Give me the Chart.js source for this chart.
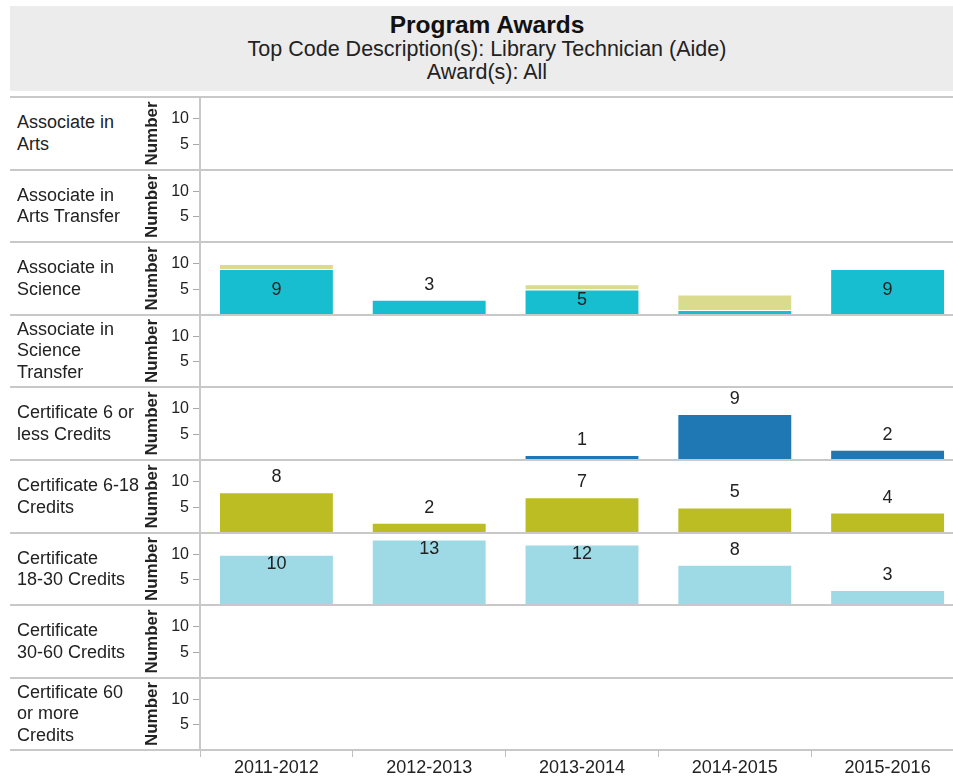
<!DOCTYPE html>
<html>
<head>
<meta charset="utf-8">
<script src="https://cdn.jsdelivr.net/npm/chart.js@4.4.1/dist/chart.umd.min.js"></script>
<style>
  html, body { margin: 0; padding: 0; background: #fff; overflow: hidden; }
  body { width: 953px; height: 778px; position: relative; font-family: Arial, "Liberation Sans", sans-serif; color: #222; }
  #header { position: absolute; left: 10px; top: 6px; width: 954px; height: 85px; background: #ececec; }
  .hline { position: absolute; left: 0; width: 954px; text-align: center; white-space: nowrap; }
  .rowline { position: absolute; left: 10px; width: 943px; height: 0; border-top: 2px solid #c8c8c8; }
  .rowlabel { position: absolute; left: 17px; width: 125px; display: flex; flex-direction: column; justify-content: center; font-size: 18px; line-height: 21.5px; color: #222; }
  canvas { position: absolute; left: 142px; }
</style>
</head>
<body>
<div id="header">
  <div class="hline" style="top:7px;height:24px;line-height:24px;font-size:24.5px;font-weight:bold;color:#111">Program Awards</div>
  <div class="hline" style="top:32px;height:23px;line-height:23px;font-size:21.5px">Top Code Description(s): Library Technician (Aide)</div>
  <div class="hline" style="top:55px;height:23px;line-height:23px;font-size:21.5px">Award(s): All</div>
</div>
<script>
// --- data ---
const years = ["2011-2012", "2012-2013", "2013-2014", "2014-2015", "2015-2016"];
const awardLabels = [
  ["Associate in", "Arts"],
  ["Associate in", "Arts Transfer"],
  ["Associate in", "Science"],
  ["Associate in", "Science", "Transfer"],
  ["Certificate 6 or", "less Credits"],
  ["Certificate 6-18", "Credits"],
  ["Certificate", "18-30 Credits"],
  ["Certificate", "30-60 Credits"],
  ["Certificate 60", "or more", "Credits"],
];
const assocArts = [null, null, null, null, null];
const assocArtsTransfer = [null, null, null, null, null];
const assocScience = [9, 3, 5, 1, 9];
const assocScienceOther = [1, 0, 1, 3, 0];
const assocScienceTransfer = [null, null, null, null, null];
const cert6OrLess = [null, null, 1, 9, 2];
const cert6to18 = [8, 2, 7, 5, 4];
const cert18to30 = [10, 13, 12, 8, 3];
const cert30to60 = [null, null, null, null, null];
const cert60OrMore = [null, null, null, null, null];
const yTicks = [5, 10];
const yMax = 14.3;

// one panel per award type
const rows = [
  { series: [assocArts], colors: ["#1f77b4"] },
  { series: [assocArtsTransfer], colors: ["#1f77b4"] },
  { series: [assocScience, assocScienceOther], colors: ["#17becf", "#dbdb8d"], mode: "inside" },
  { series: [assocScienceTransfer], colors: ["#1f77b4"] },
  { series: [cert6OrLess], colors: ["#1f77b4"] },
  { series: [cert6to18], colors: ["#bcbd22"] },
  { series: [cert18to30], colors: ["#9edae5"] },
  { series: [cert30to60], colors: ["#1f77b4"] },
  { series: [cert60OrMore], colors: ["#1f77b4"] },
];

Chart.defaults.font.family = 'Arial, "Liberation Sans", sans-serif';
Chart.defaults.color = "#222";

const FONT = '18px Arial, "Liberation Sans", sans-serif';

// value labels, above the bar when it fits, otherwise inside
const valueLabels = {
  id: "valueLabels",
  afterDatasetsDraw(chart, args, opts) {
    const { ctx, chartArea } = chart;
    const first = chart.data.datasets[0];
    const next = chart.data.datasets[1];
    ctx.save();
    ctx.font = FONT;
    ctx.fillStyle = "#222";
    ctx.textAlign = "center";
    ctx.textBaseline = "middle";
    chart.getDatasetMeta(0).data.forEach((bar, i) => {
      const v = first.data[i];
      if (!v) return;
      const h = bar.base - bar.y;
      let y;
      if (opts.mode === "inside") {
        if (h >= 20) y = (bar.y + bar.base) / 2 - 2;
        else if (!next || !next.data[i]) y = bar.y - 15;
        else return;
      } else {
        y = bar.y - 24 >= chartArea.top ? bar.y - 15 : bar.y + 9;
      }
      ctx.fillText(String(v), bar.x, y);
    });
    ctx.restore();
  },
};

const top0 = 97, rowH = 72.6, axisH = 28;
rows.forEach((row, r) => {
  const y0 = Math.round(top0 + r * rowH);
  const y1 = Math.round(top0 + (r + 1) * rowH);
  const last = r === rows.length - 1;

  const line = document.createElement("div");
  line.className = "rowline";
  line.style.top = (y0 - 1) + "px";
  document.body.appendChild(line);
  if (last) {
    const end = document.createElement("div");
    end.className = "rowline";
    end.style.top = (y1 - 1) + "px";
    document.body.appendChild(end);
  }

  const lab = document.createElement("div");
  lab.className = "rowlabel";
  lab.style.top = y0 + "px";
  lab.style.height = (y1 - y0) + "px";
  awardLabels[r].forEach((t) => {
    const s = document.createElement("div");
    s.textContent = t;
    lab.appendChild(s);
  });
  document.body.appendChild(lab);

  const cv = document.createElement("canvas");
  cv.width = 830;
  cv.height = (y1 - y0) + (last ? axisH : 0);
  cv.style.top = y0 + "px";
  document.body.appendChild(cv);

  new Chart(cv.getContext("2d"), {
    type: "bar",
    data: {
      labels: years,
      datasets: row.series.map((d, k) => ({
        label: awardLabels[r].join(" ") + (k ? " (other)" : ""),
        data: d,
        backgroundColor: row.colors[k],
        borderColor: "rgba(255,255,255,0.45)",
        borderWidth: 1,
        categoryPercentage: 1,
        barPercentage: 0.752,
      })),
    },
    options: {
      responsive: false,
      animation: false,
      devicePixelRatio: 1,
      layout: { padding: { left: 0, right: 8, top: 0, bottom: 0 } },
      plugins: {
        legend: { display: false },
        tooltip: { enabled: false },
        valueLabels: { mode: row.mode || "top" },
      },
      scales: {
        x: {
          display: last,
          stacked: row.series.length > 1,
          grid: { offset: true, drawOnChartArea: false, tickLength: 7, color: "#c0c0c0", lineWidth: 1 },
          border: { display: false },
          ticks: { font: { size: 18 }, color: "#222", padding: 0, maxRotation: 0 },
          afterFit(s) {
            s.height = last ? axisH : 0;
            s.paddingLeft = 0;
            s.paddingRight = 0;
          },
        },
        y: {
          min: 0,
          max: yMax,
          stacked: row.series.length > 1,
          afterBuildTicks(s) { s.ticks = yTicks.map((v) => ({ value: v })); },
          afterFit(s) { s.width = 58; s.paddingTop = 0; s.paddingBottom = 0; },
          grid: { drawOnChartArea: false, tickLength: 7, color: "#a8a8a8", lineWidth: 1 },
          border: { display: true, color: "#c8c8c8", width: 2 },
          ticks: { font: { size: 16 }, color: "#222", padding: 4 },
          title: { display: true, text: "Number", font: { size: 17, weight: "bold" }, color: "#222", padding: 0 },
        },
      },
    },
    plugins: [valueLabels],
  });
});
</script>
</body>
</html>
